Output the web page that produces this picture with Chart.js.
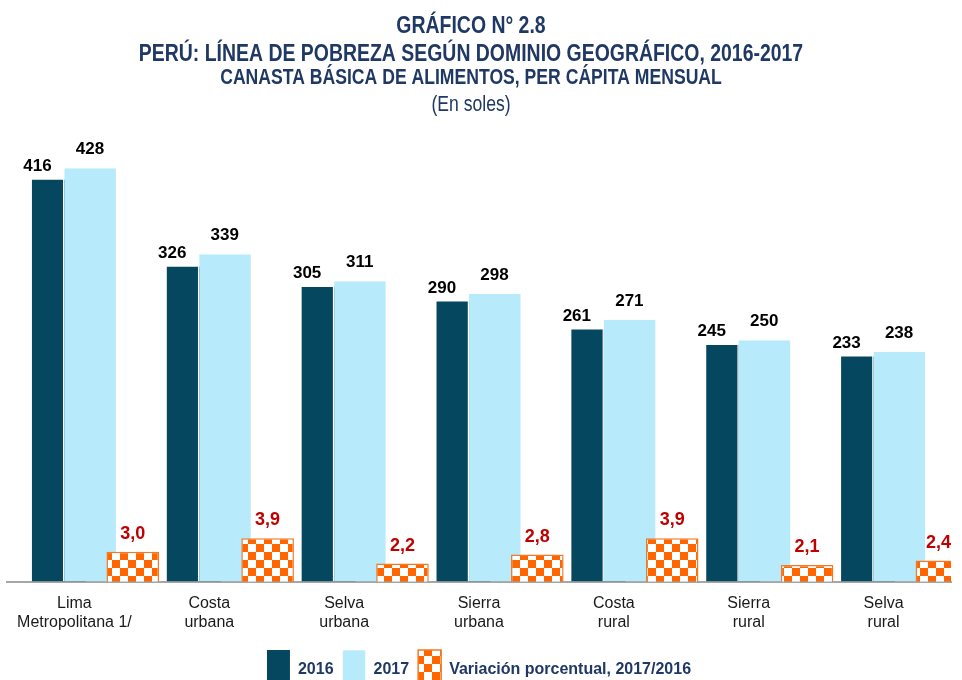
<!DOCTYPE html>
<html>
<head>
<meta charset="utf-8">
<script src="https://cdn.jsdelivr.net/npm/chart.js@4.4.0/dist/chart.umd.min.js"></script>
<style>
  html, body { margin: 0; padding: 0; background: #fff; overflow: hidden; }
  canvas { display: block; }
</style>
</head>
<body>
<canvas id="chart" width="962" height="700"></canvas>
<script>
// Datos
const categories = [
    ['Lima', 'Metropolitana 1/'],
    ['Costa', 'urbana'],
    ['Selva', 'urbana'],
    ['Sierra', 'urbana'],
    ['Costa', 'rural'],
    ['Sierra', 'rural'],
    ['Selva', 'rural']
];
const values2016 = [416, 326, 305, 290, 261, 245, 233];
const values2017 = [428, 339, 311, 298, 271, 250, 238];
const variation = [3.0, 3.9, 2.2, 2.8, 3.9, 2.1, 2.4];
const seriesNames = ['2016', '2017', 'Variación porcentual, 2017/2016'];
const titleLines = [
    'GRÁFICO N° 2.8',
    'PERÚ: LÍNEA DE POBREZA SEGÚN DOMINIO GEOGRÁFICO, 2016-2017',
    'CANASTA BÁSICA DE ALIMENTOS, PER CÁPITA MENSUAL',
    '(En soles)'
];

const NAVY = '#1F3864';
const DARK = '#05475F';
const LIGHT = '#B7EBFB';
const ORANGE = '#FF6600';

function checker(color) {
    const c = document.createElement('canvas');
    c.width = c.height = 16;
    const g = c.getContext('2d');
    g.fillStyle = '#fff';
    g.fillRect(0, 0, 16, 16);
    g.fillStyle = color;
    g.fillRect(0, 0, 8, 8);
    g.fillRect(8, 8, 8, 8);
    return g.createPattern(c, 'repeat');
}

const toPoints = arr => arr.map((v, i) => ({ x: i, y: v }));
const intTicks = axis => { axis.ticks = categories.map((_, i) => ({ value: i })); };

// desplazamiento de cada serie dentro de la categoria (en unidades de categoria)
function shiftedAxis(shift) {
    return {
        type: 'linear', display: false, offset: false,
        min: -0.5 - shift, max: 6.5 - shift,
        afterBuildTicks: intTicks
    };
}

// etiquetas de datos
const labelStyles = [
    { font: 'bold 17px "Liberation Sans"', color: '#000', dx: -21.5, gap: 9, fmt: v => String(v) },
    { font: 'bold 17px "Liberation Sans"', color: '#000', dx: 0, gap: 14, fmt: v => String(v) },
    { font: 'bold 18px "Liberation Sans"', color: '#C00000', dx: 0, gap: 13, fmt: v => v.toFixed(1).replace('.', ',') }
];

const dataLabels = {
    id: 'dataLabels',
    afterDatasetsDraw(chart) {
        const ctx = chart.ctx;
        ctx.save();
        ctx.textAlign = 'center';
        ctx.textBaseline = 'alphabetic';
        chart.data.datasets.forEach((ds, di) => {
            const st = labelStyles[di];
            const meta = chart.getDatasetMeta(di);
            ctx.font = st.font;
            ctx.fillStyle = st.color;
            meta.data.forEach((el, i) => {
                const txt = st.fmt(ds.data[i].y);
                let x = el.x + st.dx;
                const w = ctx.measureText(txt).width;
                if (x + w / 2 > chart.chartArea.right) x = chart.chartArea.right - w / 2;
                ctx.fillText(txt, x, el.y - st.gap);
            });
        });
        ctx.restore();
    }
};

// titulo: Liberation Sans comprimida (como Arial Narrow)
const header = {
    id: 'header',
    afterDraw(chart) {
        const ctx = chart.ctx;
        const fonts = [
            'bold 24px "Liberation Sans"',
            'bold 24px "Liberation Sans"',
            'bold 22px "Liberation Sans"',
            '22px "Liberation Sans"'
        ];
        const squeeze = [0.81, 0.81, 0.8, 0.8];
        const baselines = [33, 61, 84, 111];
        ctx.save();
        ctx.fillStyle = NAVY;
        ctx.textAlign = 'center';
        ctx.textBaseline = 'alphabetic';
        titleLines.forEach((t, i) => {
            ctx.save();
            ctx.font = fonts[i];
            ctx.translate(471, baselines[i]);
            ctx.scale(squeeze[i], 1);
            ctx.fillText(t, 0, 0);
            ctx.restore();
        });
        ctx.restore();
    }
};

const ctx = document.getElementById('chart').getContext('2d');
const pattern = checker(ORANGE);

new Chart(ctx, {
    type: 'bar',
    data: {
        datasets: [
            {
                label: seriesNames[0],
                data: toPoints(values2016),
                xAxisID: 'x16', yAxisID: 'y',
                backgroundColor: DARK,
                borderWidth: 0,
                grouped: false,
                barPercentage: 0.4, categoryPercentage: 1,
                order: 3
            },
            {
                label: seriesNames[1],
                data: toPoints(values2017),
                xAxisID: 'x17', yAxisID: 'y',
                backgroundColor: LIGHT,
                borderColor: '#fff',
                borderWidth: { left: 1.5, right: 1, top: 0, bottom: 0 },
                grouped: false,
                barPercentage: 0.4, categoryPercentage: 1,
                order: 2
            },
            {
                label: seriesNames[2],
                data: toPoints(variation),
                xAxisID: 'xv', yAxisID: 'y2',
                backgroundColor: pattern,
                borderColor: '#F27A26',
                borderWidth: 1.5,
                grouped: false,
                barPercentage: 0.39, categoryPercentage: 1,
                order: 1
            }
        ]
    },
    options: {
        responsive: false,
        animation: false,
        devicePixelRatio: 1,
        layout: { padding: { top: 147, left: 7, right: 11, bottom: 0 } },
        plugins: {
            title: { display: false },
            tooltip: { enabled: false },
            legend: {
                position: 'bottom',
                labels: {
                    boxWidth: 23,
                    boxHeight: 40,
                    padding: 9,
                    color: NAVY,
                    font: { family: 'Liberation Sans', size: 16, weight: 'bold' },
                    sort: (a, b) => a.datasetIndex - b.datasetIndex
                }
            }
        },
        scales: {
            x: {
                type: 'linear', offset: false,
                min: -0.5, max: 6.5,
                afterBuildTicks: intTicks,
                afterFit: axis => { axis.height -= 3; },
                grid: { display: false, drawTicks: false },
                border: { display: true, color: '#A6A6A6', width: 2 },
                ticks: {
                    callback: v => categories[v],
                    color: '#1a1a1a',
                    font: { family: 'Liberation Sans', size: 16, lineHeight: 1.2 },
                    padding: 12,
                    maxRotation: 0,
                    autoSkip: false
                }
            },
            x16: shiftedAxis(-0.115),
            x17: shiftedAxis(0.115),
            xv: shiftedAxis(0.4325),
            y: { display: false, min: 0, max: 450 },
            y2: { display: false, min: 1, max: 30 }
        }
    },
    plugins: [dataLabels, header]
});
</script>
</body>
</html>
